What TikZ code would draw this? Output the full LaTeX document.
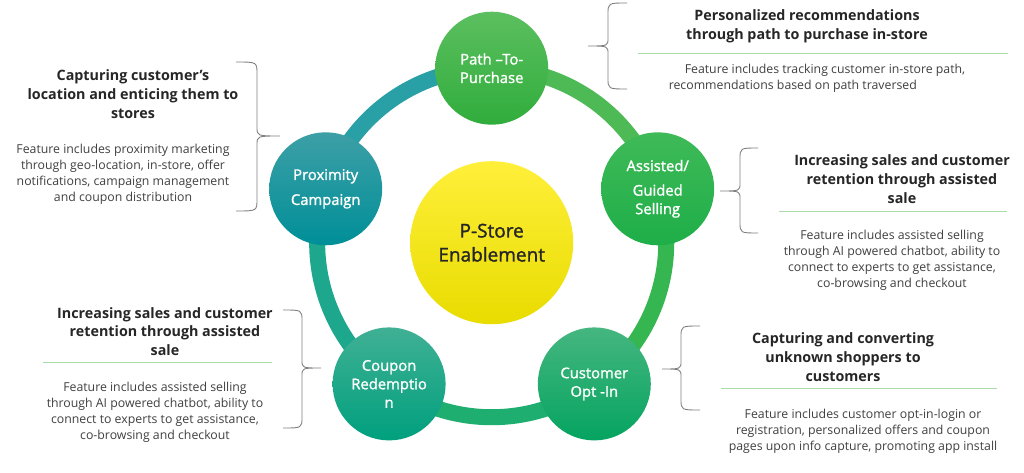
\documentclass[tikz,border=0pt]{standalone}
\usepackage{fontspec}
\setmainfont{Open Sans}
\newfontfamily\semib{Open Sans}[FakeBold=1.4]
\definecolor{ringA}{HTML}{28A0A6}
\definecolor{ringB}{HTML}{4DBA56}
\definecolor{ringC}{HTML}{35B650}
\definecolor{ringD}{HTML}{1DAE70}
\definecolor{ringE}{HTML}{1DA88E}
\definecolor{titlec}{HTML}{262626}
\definecolor{bodyc}{HTML}{404040}
\definecolor{sepc}{HTML}{A8DCA8}
\definecolor{bracec}{HTML}{808080}
\begin{document}
\begin{tikzpicture}[x=1pt,y=-1pt,
  feat/.style={circle,minimum size=113pt,inner sep=0pt,text=white,align=center,
    font=\semib\fontsize{14.8}{18.5}\selectfont},
  hub/.style={circle,minimum size=163pt,inner sep=0pt,text=titlec,align=center,
    top color=yellowtop,bottom color=yellowbot,font=\semib\fontsize{19}{24}\selectfont},
  seg/.style={line width=16pt},
  ttl/.style={align=center,text=titlec,font=\bfseries\fontsize{14.3}{18.7}\selectfont,inner sep=0pt},
  bdy/.style={align=center,text=bodyc,font=\fontsize{12.3}{16}\selectfont,inner sep=0pt},
  sepline/.style={draw=sepc,line width=1pt},
  brc/.style={draw=bracec,line width=0.9pt}]
\definecolor{yellowtop}{HTML}{FFEF3A}
\definecolor{yellowbot}{HTML}{E8DC00}
\useasboundingbox (0,0) rectangle (1024,473);
\fill[white] (0,0) rectangle (1024,473);
% hub
\coordinate (c) at (491.7,242.7);
\node[hub] (hub) at (c) {P-Store\\Enablement};
% node centers
\coordinate (pP) at (491.7,68.2);
\coordinate (pX) at (325.7,188.8);
\coordinate (pA) at (657.7,188.8);
\coordinate (pC) at (389.1,383.9);
\coordinate (pO) at (594.3,383.9);
% ring segments
\draw[seg,ringA] (pP) arc[start angle=-90,end angle=-162,radius=174.5];
\draw[seg,ringB] (pP) arc[start angle=-90,end angle=-18,radius=174.5];
\draw[seg,ringC] (pA) arc[start angle=-18,end angle=54,radius=174.5];
\draw[seg,ringD] (pO) arc[start angle=54,end angle=126,radius=174.5];
\draw[seg,ringE] (pC) arc[start angle=126,end angle=198,radius=174.5];
% feature nodes
\node[feat,top color={rgb,255:red,92;green,191;blue,95},bottom color={rgb,255:red,48;green,173;blue,60}] (path) at (pP) {Path –To-\\Purchase};
\node[feat,top color={rgb,255:red,61;green,159;blue,166},bottom color={rgb,255:red,0;green,143;blue,152},font=\semib\fontsize{14.8}{25}\selectfont] (prox) at (pX) {Proximity\\Campaign};
\node[feat,top color={rgb,255:red,63;green,186;blue,88},bottom color={rgb,255:red,30;green,174;blue,72}] (assist) at (pA) {Assisted/\\[6pt]Guided\\Selling};
\node[feat,top color={rgb,255:red,64;green,176;blue,148},bottom color={rgb,255:red,0;green,160;blue,126}] (coupon) at (pC) {Coupon\\Redemptio\\n};
\node[feat,top color={rgb,255:red,69;green,182;blue,127},bottom color={rgb,255:red,5;green,164;blue,96}] (optin) at (pO) {Customer\\Opt -In};
% text block 1 (top right)
\node[ttl] (t1) at (807,26) {Personalized recommendations\\through path to purchase in-store};
\draw[sepline] (638,54) -- (1008,54);
\node[bdy,align=left] (b1) at (817,78) {\hspace*{16pt}Feature includes tracking customer in-store path,\\recommendations based on path traversed};
% text block 2 (left top)
\node[ttl] (t2) at (133,94) {Capturing customer’s\\location and enticing them to\\stores};
\node[bdy] (b2) at (123,174) {Feature includes proximity marketing\\through geo-location, in-store, offer\\notifications, campaign management\\and coupon distribution};
% text block 3 (right middle)
\node[ttl] (t3) at (902,179) {Increasing sales and customer\\retention through assisted\\sale};
\draw[sepline] (779,211) -- (1007,211);
\node[bdy] (b3) at (892,260) {Feature includes assisted selling\\through AI powered chatbot, ability to\\connect to experts to get assistance,\\co-browsing and checkout};
% text block 4 (left bottom)
\node[ttl] (t4) at (165,331.5) {Increasing sales and customer\\retention through assisted\\sale};
\draw[sepline] (43,362.5) -- (272,362.5);
\node[bdy] (b4) at (155,412) {Feature includes assisted selling\\through AI powered chatbot, ability to\\connect to experts to get assistance,\\co-browsing and checkout};
% text block 5 (right bottom)
\node[ttl] (t5) at (843,357) {Capturing and converting\\unknown shoppers to\\customers};
\draw[sepline] (721,388) -- (997,388);
\node[bdy] (b5) at (863,431) {Feature includes customer opt-in-login or\\registration, personalized offers and coupon\\pages upon info capture, promoting app install};
% braces
\draw[brc] (627,3) .. controls (608,3) .. (608,14) -- (608,38) .. controls (608,46) .. (588,46) .. controls (608,46) .. (608,54) -- (608,78) .. controls (608,89) .. (627,89);
\draw[brc] (236,62) .. controls (257,62) .. (257,74) -- (257,127) .. controls (257,136) .. (280,136) .. controls (257,136) .. (257,145) -- (257,199) .. controls (257,211) .. (236,211);
\draw[brc] (758,148) .. controls (740,148) .. (740,159) -- (740,183) .. controls (740,191) .. (720,191) .. controls (740,191) .. (740,199) -- (740,222) .. controls (740,233) .. (758,233);
\draw[brc] (283,310) .. controls (302,310) .. (302,321) -- (302,360) .. controls (302,368) .. (321,368) .. controls (302,368) .. (302,376) -- (302,417) .. controls (302,428) .. (283,428);
\draw[brc] (700,326) .. controls (681,326) .. (681,337) -- (681,361) .. controls (681,369) .. (662,369) .. controls (681,369) .. (681,377) -- (681,399) .. controls (681,410) .. (700,410);
\end{tikzpicture}
\end{document}
